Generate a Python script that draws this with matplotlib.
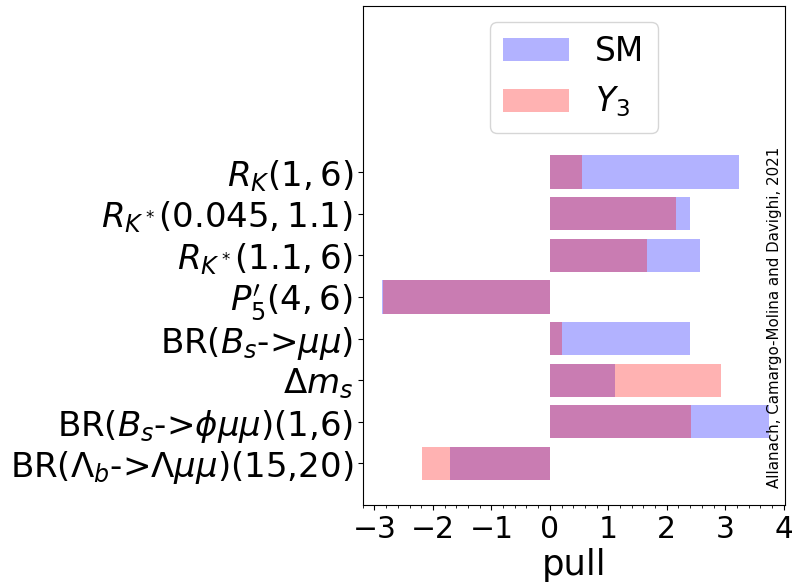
import numpy as np
import matplotlib
matplotlib.use("Agg")
import matplotlib.pyplot as plt
from matplotlib.ticker import MultipleLocator

# observables, top to bottom
observables = [r"$R_K(1,6)$",
               r"$R_{K^*}(0.045,1.1)$",
               r"$R_{K^*}(1.1,6)$",
               r"$P_5'(4,6)$",
               r"BR($B_s$->$\mu\mu$)",
               r"$\Delta m_s$",
               r"BR($B_s$->$\phi\mu\mu$)(1,6)",
               r"BR($\Lambda_b$->$\Lambda\mu\mu$)(15,20)"]

# pulls
pull_sm = [3.24, 2.39, 2.56, -2.87, 2.39, 1.11, 3.75, -1.71]
pull_y3 = [0.55, 2.15, 1.67, -2.85, 0.205, 2.93, 2.41, -2.18]

ypos = np.arange(len(observables))[::-1]

fig = plt.figure(figsize=(7.92, 5.87), dpi=100)
ax = fig.add_axes([0.458, 0.1397, 0.533, 0.8506])

ax.barh(ypos, pull_sm, height=0.8, color="blue", alpha=0.3, label="SM")
ax.barh(ypos, pull_y3, height=0.8, color="red", alpha=0.3, label=r"$Y_3$")

ax.set_yticks(ypos)
ax.set_yticklabels(observables, fontsize=24.5)
ax.set_ylim(-1, 11)
ax.set_xlim(-3.2, 4.02)
ax.xaxis.set_major_locator(MultipleLocator(1))
ax.xaxis.set_minor_locator(MultipleLocator(0.2))
ax.tick_params(axis="x", labelsize=21.5)
ax.set_xlabel("pull", fontsize=25.5, labelpad=3)

ax.legend(loc="upper center", fontsize=23.7)
ax.text(0.993, 0.034, "Allanach, Camargo-Molina and Davighi, 2021",
        rotation=90, ha="right", va="bottom", fontsize=10.8,
        transform=ax.transAxes)

fig.savefig("out.png", dpi=100)
